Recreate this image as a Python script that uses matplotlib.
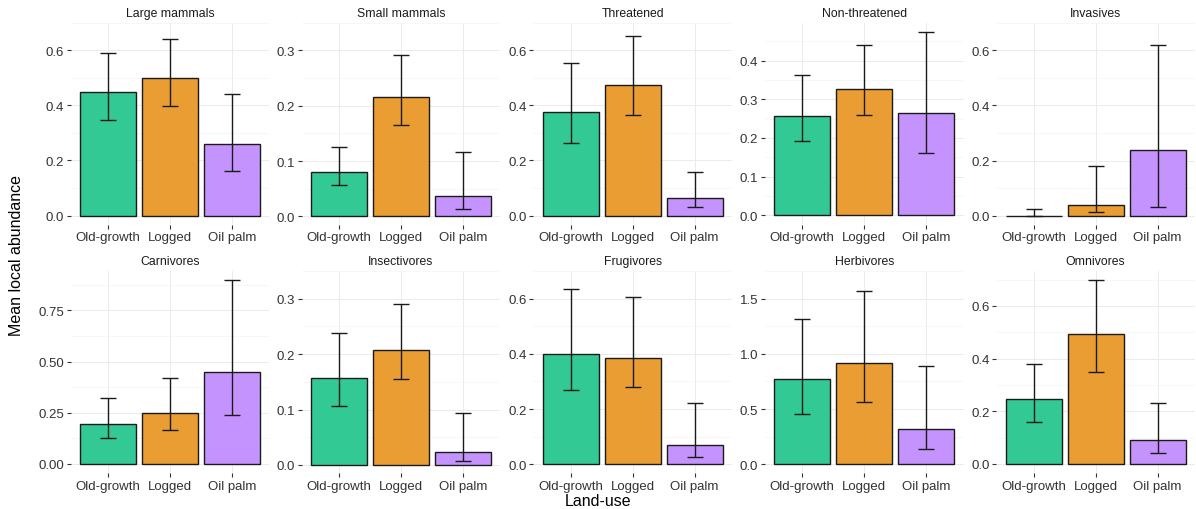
import matplotlib
matplotlib.use("Agg")
import matplotlib.pyplot as plt
import numpy as np

plt.rcParams['font.family'] = ['Liberation Sans', 'DejaVu Sans']

# data
land_use = ["Old-growth", "Logged", "Oil palm"]
groups = ["Large mammals", "Small mammals", "Threatened", "Non-threatened", "Invasives",
          "Carnivores", "Insectivores", "Frugivores", "Herbivores", "Omnivores"]

mean_vals = [
    [0.449, 0.500, 0.261],
    [0.081, 0.216, 0.036],
    [0.376, 0.473, 0.062],
    [0.257, 0.328, 0.265],
    [0.000, 0.041, 0.237],
    [0.196, 0.250, 0.449],
    [0.157, 0.207, 0.023],
    [0.398, 0.384, 0.069],
    [0.771, 0.919, 0.322],
    [0.247, 0.495, 0.090],
]
lower_ci = [
    [0.345, 0.399, 0.163],
    [0.056, 0.165, 0.014],
    [0.264, 0.364, 0.030],
    [0.193, 0.259, 0.161],
    [0.000, 0.013, 0.033],
    [0.127, 0.163, 0.240],
    [0.106, 0.155, 0.007],
    [0.269, 0.281, 0.026],
    [0.459, 0.562, 0.142],
    [0.160, 0.350, 0.043],
]
upper_ci = [
    [0.589, 0.641, 0.441],
    [0.125, 0.292, 0.116],
    [0.552, 0.652, 0.157],
    [0.363, 0.441, 0.475],
    [0.024, 0.179, 0.620],
    [0.320, 0.420, 0.898],
    [0.239, 0.291, 0.094],
    [0.633, 0.607, 0.222],
    [1.314, 1.571, 0.894],
    [0.379, 0.698, 0.232],
]
y_ticks = [
    [0.0, 0.2, 0.4, 0.6],
    [0.0, 0.1, 0.2, 0.3],
    [0.0, 0.2, 0.4, 0.6],
    [0.0, 0.1, 0.2, 0.3, 0.4],
    [0.0, 0.2, 0.4, 0.6],
    [0.0, 0.25, 0.5, 0.75],
    [0.0, 0.1, 0.2, 0.3],
    [0.0, 0.2, 0.4, 0.6],
    [0.0, 0.5, 1.0, 1.5],
    [0.0, 0.2, 0.4, 0.6],
]
y_fmt = ["%.1f", "%.1f", "%.1f", "%.1f", "%.1f", "%.2f", "%.1f", "%.1f", "%.1f", "%.1f"]

colors = ["#33C994", "#E99D32", "#C593FD"]

W, H = 1196, 510
fig = plt.figure(figsize=(W / 100, H / 100), dpi=100)
fig.patch.set_facecolor("white")

col_left = [70.7, 301.7, 533.4, 765.0, 996.4]
panel_w = 198.5
row_top = [23.5, 272.0]
panel_h = 202.0

x = np.arange(len(land_use))
for i, name in enumerate(groups):
    r, c = divmod(i, 5)
    ax = fig.add_axes([col_left[c] / W, 1 - (row_top[r] + panel_h) / H, panel_w / W, panel_h / H])
    m = np.array(mean_vals[i])
    lo = np.array(lower_ci[i])
    hi = np.array(upper_ci[i])
    ax.bar(x, m, width=0.9, color=colors, edgecolor="#1a1a1a", linewidth=1.0, zorder=2)
    ax.errorbar(x, m, yerr=[m - lo, hi - m], fmt="none", ecolor="#1a1a1a",
                elinewidth=1.0, capsize=5.6, capthick=1.0, zorder=3)
    top = max(hi.max(), m.max())
    bot = min(0, lo.min())
    rng = top - bot
    ax.set_ylim(bot - 0.05 * rng, top + 0.05 * rng)
    ax.set_xlim(-0.6, 2.6)
    ticks = y_ticks[i]
    ax.set_yticks(ticks)
    ax.set_yticklabels([y_fmt[i] % t for t in ticks])
    step = ticks[1] - ticks[0]
    ax.set_yticks([t + step / 2 for t in ticks], minor=True)
    ax.set_xticks(x)
    ax.set_xticklabels(land_use)
    ax.grid(True, which="major", color="#EBEBEB", linewidth=0.7, zorder=0)
    ax.grid(True, which="minor", axis="y", color="#F4F4F4", linewidth=0.5, zorder=0)
    ax.set_axisbelow(True)
    for s in ax.spines.values():
        s.set_visible(False)
    ax.tick_params(axis="both", which="major", length=3, width=0.8, color="#333333",
                   labelsize=9.5, labelcolor="#333333", pad=2)
    ax.tick_params(axis="y", which="minor", length=0)
    ax.set_title(name, fontsize=8.8, color="#1a1a1a", pad=5)

fig.text(17 / W, 0.5, "Mean local abundance", rotation=90, ha="center", va="center", fontsize=11.5)
fig.text(598 / W, 1 - 502 / H, "Land-use", ha="center", va="center", fontsize=11.5)

fig.savefig("out.png", dpi=100)
